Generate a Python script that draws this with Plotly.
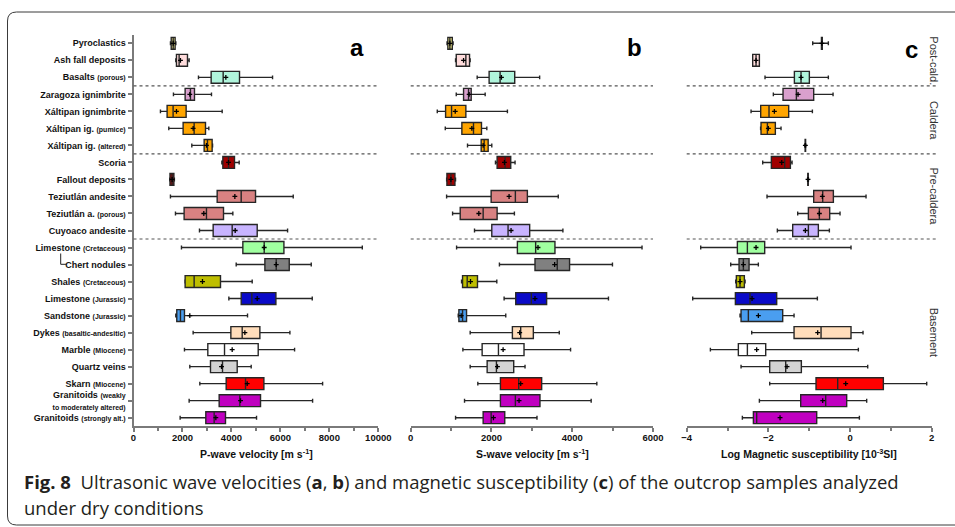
import plotly.graph_objects as go

# ---- categories (top to bottom) -------------------------------------------
cats = ["Pyroclastics", "Ash fall deposits", "Basalts (porous)", "Zaragoza ignimbrite",
        "Xáltipan ignimbrite", "Xáltipan ig. (pumice)", "Xáltipan ig. (altered)", "Scoria",
        "Fallout deposits", "Teziutlán andesite", "Teziutlán a. (porous)", "Cuyoaco andesite",
        "Limestone (Cretaceous)", "Chert nodules", "Shales (Cretaceous)", "Limestone (Jurassic)",
        "Sandstone (Jurassic)", "Dykes (basaltic-andesitic)", "Marble (Miocene)", "Quartz veins",
        "Skarn (Miocene)", "Granitoids (weakly to moderately altered)", "Granitoids (strongly alt.)"]

label_main = ["Pyroclastics", "Ash fall deposits", "Basalts", "Zaragoza ignimbrite",
              "Xáltipan ignimbrite", "Xáltipan ig.", "Xáltipan ig.", "Scoria",
              "Fallout deposits", "Teziutlán andesite", "Teziutlán a.", "Cuyoaco andesite",
              "Limestone", "Chert nodules", "Shales", "Limestone", "Sandstone", "Dykes",
              "Marble", "Quartz veins", "Skarn", "Granitoids", "Granitoids"]
label_sub = ["", "", "(porous)", "", "", "(pumice)", "(altered)", "", "", "", "(porous)", "",
             "(Cretaceous)", "", "(Cretaceous)", "(Jurassic)", "(Jurassic)",
             "(basaltic-andesitic)", "(Miocene)", "", "(Miocene)",
             "(weakly|to moderately altered)", "(strongly alt.)"]

colors = ["#F7F08A", "#FFDCDC", "#B0F5DC", "#D9A0CD", "#FFA500", "#FFA500", "#FFA500",
          "#A00000", "#A00000", "#D98282", "#D98282", "#C8B4FF", "#A0FFA0", "#808080",
          "#BEBE00", "#0A0AC8", "#4A9EF0", "#FFDDBB", "#FFFFFF", "#D3D3D3", "#FF0000",
          "#C000C0", "#C000C0"]

# ---- (a) P-wave velocity [m/s] --------------------------------------------
p_lo = [1510, 1727, 2654, 1632, 1101, 1441, 2382, 3609, 1480, 1509, 1714, 2695, 1959, 4195,
        2100, 3895, 1727, 2436, 2082, 2300, 2709, 2273, 1905]
p_q1 = [1540, 1755, 3172, 2109, 1373, 2027, 2886, 3650, 1490, 3418, 2068, 3254, 4467, 5367,
        2109, 4399, 1768, 3977, 3036, 3145, 3786, 3499, 2954]
p_med = [1620, 1864, 3663, 2327, 1618, 2477, 3022, 3881, 1578, 4399, 2981, 4031, 5339, 5830,
         2477, 4835, 1918, 4440, 3718, 3636, 4576, 4344, 3295]
p_q3 = [1700, 2205, 4331, 2491, 2150, 2941, 3213, 4126, 1650, 4985, 3677, 5053, 6144, 6362,
        3554, 5817, 2082, 5162, 5094, 4236, 5326, 5189, 3758]
p_hi = [1730, 2273, 5680, 3186, 3622, 3077, 3230, 4317, 1670, 6525, 4058, 6294, 9347, 7261,
        4849, 7302, 4658, 6389, 6580, 4808, 7725, 7316, 5026]
p_mean = [1620, 1918, 3772, 2300, 1755, 2436, 2981, 3881, 1578, 4140, 2872, 4154, 5339, 5830,
          2818, 5053, 2300, 4549, 4031, 3595, 4644, 4372, 3363]

# ---- (b) S-wave velocity [m/s] --------------------------------------------
s_lo = [900, 1111, 1646, 1128, 658, 856, 1407, 2099, 890, 889, 1037, 1580, 1136, 2197, 1259,
        2313, 1177, 1473, 1292, 1473, 1662, 1333, 1111]
s_q1 = [920, 1128, 1942, 1309, 864, 1267, 1745, 2140, 897, 1992, 1226, 2008, 2642, 3078, 1284,
        2601, 1193, 2518, 1769, 1893, 2222, 2222, 1794]
s_med = [970, 1366, 2214, 1432, 1012, 1555, 1819, 2337, 996, 2592, 1794, 2411, 3094, 3629, 1399,
         2987, 1284, 2724, 2173, 2123, 2675, 2592, 1992]
s_q3 = [1030, 1457, 2576, 1498, 1366, 1753, 1918, 2477, 1095, 2889, 2140, 2946, 3572, 3934, 1654,
        3366, 1383, 3037, 2806, 2551, 3243, 3201, 2329]
s_hi = [1050, 1473, 3193, 1844, 2395, 1885, 2008, 2584, 1110, 3654, 2568, 3769, 5728, 4996, 2132,
        4897, 2354, 3679, 3959, 2831, 4609, 4469, 3127]
s_mean = [970, 1309, 2247, 1448, 1103, 1514, 1794, 2321, 996, 2436, 1687, 2485, 3152, 3564, 1481,
          3078, 1250, 2699, 2288, 2148, 2724, 2683, 2049]

# ---- (c) log magnetic susceptibility [1e-3 SI] ----------------------------
m_lo = [-0.914, -2.384, -2.082, -1.878, -2.424, -2.19, -1.11, -2.139, -1.04, -2.033, -1.282,
        -1.780, -3.657, -2.922, -2.80, -3.853, -2.694, -2.408, -3.420, -2.669, -1.967, -2.220,
        -2.637]
m_q1 = [-0.70, -2.384, -1.363, -1.641, -2.188, -2.18, -1.10, -1.927, -1.035, -0.890, -1.020,
        -1.404, -2.759, -2.718, -2.784, -2.808, -2.669, -1.371, -2.735, -1.967, -0.833, -1.208,
        -2.367]
m_med = [-0.69, -2.302, -1.2, -1.314, -1.984, -2.024, -1.094, -1.6, -1.029, -0.669, -0.751,
         -1.020, -2.514, -2.612, -2.694, -2.449, -2.49, -0.710, -2.514, -1.576, -0.302, -0.596,
         -2.286]
m_q3 = [-0.68, -2.220, -0.996, -0.890, -1.502, -1.829, -1.088, -1.461, -1.023, -0.408, -0.498,
        -0.776, -2.090, -2.473, -2.588, -1.796, -1.649, 0.024, -2.065, -1.192, 0.816, -0.082,
        -0.816]
m_hi = [-0.531, -2.220, -0.531, -0.416, -0.922, -1.690, -1.08, -1.420, -1.018, 0.392, -0.245,
        -0.506, 0.024, -2.245, -2.57, -0.8, -1.371, 0.318, 0.204, 0.433, 1.878, 0.408, 0.229]
m_mean = [-0.69, -2.302, -1.2, -1.273, -1.853, -2.0, -1.094, -1.673, -1.029, -0.678, -0.751,
          -1.094, -2.302, -2.612, -2.694, -2.4, -2.245, -0.792, -2.286, -1.543, -0.106, -0.669,
          -1.714]

groups = [("Post-cald.", 0, 2), ("Caldera", 3, 6), ("Pre-caldera", 7, 11), ("Basement", 12, 22)]
separators = [2.5, 6.5, 11.5]

W, H = 955, 527
ROW0, ROW_STEP = 43.3, 17.02   # pixel centre of the first row and row pitch


def px(x):
    return x / W


def py(y):
    return 1 - y / H


def tick_label(main, sub):
    if not sub:
        return main
    parts = sub.split("|")
    if len(parts) == 1:
        return f"{main} <span style='font-size:7px'>{sub}</span>"
    return (f"{main} <span style='font-size:7px'>{parts[0]}</span><br>"
            f"<span style='font-size:7px'>{parts[1]}</span>")


ticktext = [tick_label(m, s) for m, s in zip(label_main, label_sub)]

panels = [
    ("x", p_lo, p_q1, p_med, p_q3, p_hi, p_mean),
    ("x2", s_lo, s_q1, s_med, s_q3, s_hi, s_mean),
    ("x3", m_lo, m_q1, m_med, m_q3, m_hi, m_mean),
]

fig = go.Figure()
for xa, lo, q1, med, q3, hi, mean in panels:
    for i, cat in enumerate(cats):
        fig.add_trace(go.Box(
            y=[cat], q1=[q1[i]], median=[med[i]], q3=[q3[i]],
            lowerfence=[lo[i]], upperfence=[hi[i]],
            orientation="h", xaxis=xa, yaxis="y",
            width=0.7, whiskerwidth=0.33,
            fillcolor=colors[i], line=dict(color="#262626", width=1.4),
            hoverinfo="skip", showlegend=False,
        ))
    fig.add_trace(go.Scatter(
        x=mean, y=cats, mode="markers", xaxis=xa, yaxis="y",
        marker=dict(symbol="cross-thin", size=3.5, line=dict(color="#000000", width=1.3)),
        hoverinfo="skip", showlegend=False,
    ))

AX = "#7a7a7a"
tickfont = dict(family="Liberation Sans, Arial", size=9.5, color="#111111", weight="bold")


def xaxis_style(domain, rng, dtick, minor):
    return dict(
        domain=domain, range=rng, anchor="y", showgrid=False, zeroline=False,
        showline=True, linecolor=AX, linewidth=2, ticks="outside", ticklen=4,
        tickcolor=AX, tickwidth=1.5, tick0=0, dtick=dtick, tickformat="d", tickfont=tickfont,
        ticklabelstandoff=-3,
        minor=dict(ticks="outside", ticklen=3, tickcolor=AX, tickwidth=1.5, dtick=minor),
        automargin=False, fixedrange=True,
    )


fig.update_layout(
    width=W, height=H, margin=dict(l=0, r=0, t=0, b=0),
    template="none", paper_bgcolor="white", plot_bgcolor="rgba(0,0,0,0)",
    showlegend=False, boxmode="overlay",
    xaxis=xaxis_style([px(133.5), px(378.3)], [0, 10000], 2000, 1000),
    xaxis2=xaxis_style([px(410.7), px(653)], [0, 6000], 2000, 1000),
    xaxis3=xaxis_style([px(686.7), px(931.7)], [-4, 2], 2, 1),
    yaxis=dict(
        domain=[py(426.2), py(34.8)], type="category", categoryorder="array",
        categoryarray=cats, range=[22.5, -0.5], anchor="x",
        tickvals=cats, ticktext=ticktext, tickfont=dict(family="Liberation Sans, Arial",
                                                         size=9, color="#111111",
                                                         weight="bold"),
        showgrid=False, zeroline=False, showline=True, linecolor=AX, linewidth=2,
        ticks="outside", ticklen=4, tickcolor=AX, tickwidth=1.5, automargin=False,
        fixedrange=True,
    ),
)

# dotted group separators in every panel
for xa, ext in (("x", 1.0), ("x2", 1.0), ("x3", 1.025)):
    for s in separators:
        fig.add_shape(type="line", xref=f"{xa} domain", yref="y", x0=0, x1=ext, y0=s, y1=s,
                      line=dict(color="#555555", width=1.2, dash="dot"))

# bracket linking the chert nodules to the Cretaceous limestone
fig.add_shape(type="path", xref="paper", yref="paper",
              path=f"M {px(60.7)},{py(253.5)} L {px(60.7)},{py(264.3)} L {px(66.7)},{py(264.3)}",
              line=dict(color="#222222", width=1))


def note(x, y, text, font, **kw):
    fig.add_annotation(x=px(x), y=py(y), xref="paper", yref="paper", text=text,
                       showarrow=False, font=font,
                       xanchor=kw.pop("xanchor", "center"), yanchor="middle", **kw)


# panel letters
for letter, x, y in (("a", 356.7, 48), ("b", 634, 48), ("c", 911.7, 49)):
    note(x, y, f"<b>{letter}</b>", dict(family="Liberation Sans, Arial", size=24,
                                        color="#000000"))

# axis titles
axis_titles = [("P-wave velocity [m s<sup>-1</sup>]", 256),
               ("S-wave velocity [m s<sup>-1</sup>]", 532),
               ("Log Magnetic susceptibility [10<sup>-3</sup>SI]", 809)]
for txt, x in axis_titles:
    note(x, 453, f"<b>{txt}</b>", dict(family="Liberation Sans, Arial", size=10.5,
                                       color="#111111"))

# stratigraphic group labels along the right edge
for name, r0, r1 in groups:
    yc = ROW0 + ROW_STEP * (r0 + r1) / 2
    note(934, yc, name, dict(family="Liberation Sans, Arial", size=11, color="#333333"),
         textangle=90)

# caption
cap_font = dict(family="Open Sans", size=18.5, color="#231f20")
note(22, 481, "<b>Fig. 8</b>  Ultrasonic wave velocities (<b>a</b>, <b>b</b>) and magnetic "
              "susceptibility (<b>c</b>) of the outcrop samples analyzed",
     cap_font, xanchor="left")
note(22, 507, "under dry conditions", cap_font, xanchor="left")

# rounded figure frame
r = 9
x0, y0, y1 = 7.5, 12, 525
frame = (f"M {px(960)},{py(y0)} L {px(x0 + r)},{py(y0)} "
         f"Q {px(x0)},{py(y0)} {px(x0)},{py(y0 + r)} "
         f"L {px(x0)},{py(y1 - r)} Q {px(x0)},{py(y1)} {px(x0 + r)},{py(y1)} "
         f"L {px(960)},{py(y1)}")
fig.add_shape(type="path", xref="paper", yref="paper", path=frame,
              line=dict(color="#3a3a3a", width=1))

fig.write_html("out.html")
